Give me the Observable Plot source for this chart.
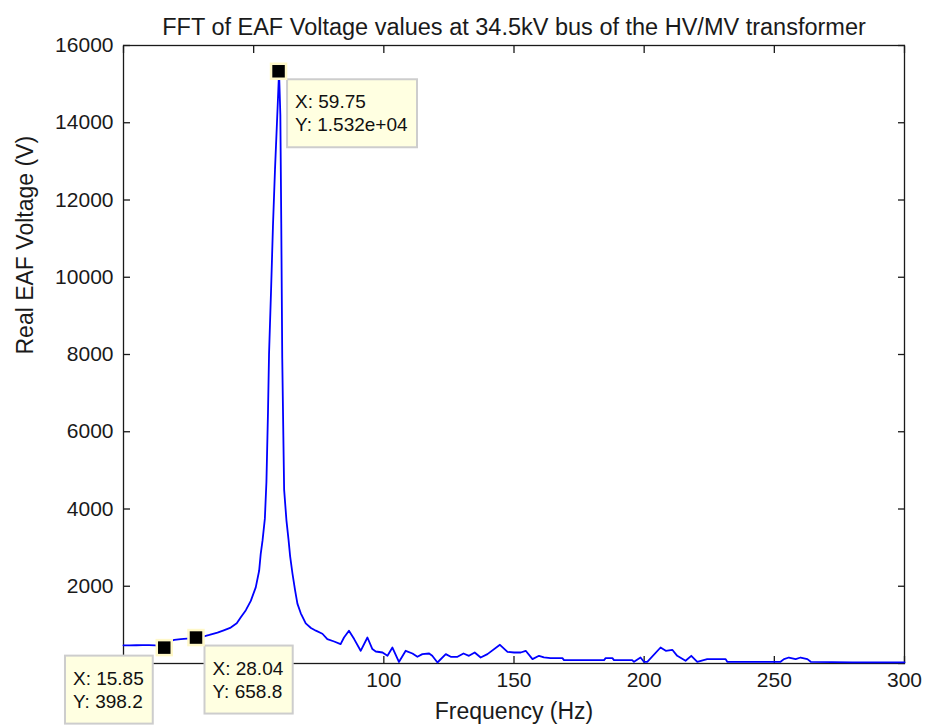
<!DOCTYPE html>
<html>
<head>
<meta charset="utf-8">
<script src="https://cdn.jsdelivr.net/npm/d3@7"></script>
<script src="https://cdn.jsdelivr.net/npm/@observablehq/plot@0.6"></script>
<style>
  html, body { margin: 0; padding: 0; background: #fff; }
  svg { display: block; }
</style>
</head>
<body>
<div id="chart"></div>
<script>
// ---- data ----
const titleText = "FFT of EAF Voltage values at 34.5kV bus of the HV/MV transformer";
const xLabel = "Frequency (Hz)";
const yLabel = "Real EAF Voltage (V)";
const xTicks = [0, 50, 100, 150, 200, 250, 300];
const yTicks = [0, 2000, 4000, 6000, 8000, 10000, 12000, 14000, 16000];
// labels that are visible (0 and 50 sit under the data tips in the reference)
const xTickLabels = [100, 150, 200, 250, 300];
const yTickLabels = [2000, 4000, 6000, 8000, 10000, 12000, 14000, 16000];

const freqHz = [
  0, 2.4, 4.9, 7.3, 9.8, 12.2, 14.6, 15.85, 17.1, 19.5,
  22.0, 24.4, 26.8, 28.04, 29.3, 30.9, 33.0, 36.1, 38.5, 41.2,
  43.5, 45.0, 47.0, 48.9, 50.8, 52.1, 52.7, 53.4, 54.3, 54.9,
  55.5, 55.9, 56.7, 57.4, 58.2, 59.2, 59.75, 60.25, 60.6, 60.98,
  61.4, 61.7, 62.6, 63.4, 64.0, 64.9, 65.9, 66.8, 68.1, 70.0,
  72.0, 73.9, 76.4, 78.3, 80.9, 83.4, 84.7, 86.6, 88.6, 91.1,
  93.7, 95.6, 96.9, 99.5, 101.4, 103.3, 105.8, 108.4, 111.0, 112.9,
  114.8, 117.4, 118.6, 120.6, 123.8, 125.7, 128.3, 130.6, 132.7, 134.9,
  137.2, 139.8, 144.6, 147.5, 150.0, 152.6, 154.5, 157.1, 159.6, 161.5,
  164.0, 168.6, 169.2, 184.6, 185.2, 187.8, 188.4, 195.4, 196.1, 198.6,
  199.9, 201.2, 206.3, 208.3, 210.8, 212.7, 215.9, 218.1, 220.4, 224.2,
  231.3, 231.9, 252.4, 253.7, 255.6, 258.2, 260.1, 262.7, 264.0, 280,
  300
];
const voltage = [
  470, 470, 472, 475, 478, 470, 440, 398.2, 560, 610,
  630, 642, 650, 658.8, 685, 705, 740, 800, 860, 930,
  1040, 1190, 1380, 1620, 1970, 2400, 2830, 3180, 3750, 4700,
  6500, 8000, 9700, 11300, 12800, 14400, 15320, 14200, 11400, 7900,
  5900, 4500, 3700, 3200, 2780, 2330, 1900, 1550, 1300, 1040,
  920, 850, 770, 632, 570, 502, 673, 847, 632, 329,
  673, 373, 311, 285, 199, 414, 40, 329, 259, 174,
  243, 259, 199, 26, 243, 174, 174, 259, 199, 285,
  155, 243, 484, 300, 285, 285, 329, 114, 199, 160,
  140, 140, 88, 88, 140, 140, 88, 88, 44, 155,
  44, 44, 414, 329, 355, 199, 70, 199, 44, 114,
  114, 44, 44, 114, 155, 114, 155, 114, 44, 30,
  30
];

// data tips (MATLAB data cursors)
const tipFreq = [15.85, 28.04, 59.75];
const tipVolt = [398.2, 658.8, 15320];
const tipXText = ["X: 15.85", "X: 28.04", "X: 59.75"];
const tipYText = ["Y: 398.2", "Y: 658.8", "Y: 1.532e+04"];
const tipSide = ["left", "right", "right"];

// ---- styling ----
const W = 927, H = 728;
const M = {top: 45, right: 23, bottom: 65, left: 123};
const ink = "#1a1a1a";
const font = "'Liberation Sans', Arial, Helvetica, sans-serif";

function dataTips(index, scales) {
  const g = d3.create("svg:g").attr("class", "datatips");
  tipFreq.forEach((f, i) => {
    const px = scales.x(f), py = scales.y(tipVolt[i]);
    const t = g.append("g").attr("class", "tip")
      .attr("data-px", px).attr("data-py", py).attr("data-side", tipSide[i]);
    t.append("rect").attr("class", "tipbg")
      .attr("x", 0).attr("y", 0).attr("height", 68).attr("width", 90)
      .attr("fill", "#ffffe1").attr("stroke", "#cdcdcd").attr("stroke-width", 2);
    const tx = t.append("text").attr("class", "tiptext")
      .attr("text-anchor", "start")
      .attr("font-size", 19).attr("fill", "#111").attr("font-family", font);
    tx.append("tspan").attr("x", 8).attr("y", 29).text(tipXText[i]);
    tx.append("tspan").attr("x", 8).attr("y", 52).text(tipYText[i]);
    g.append("rect")
      .attr("x", px - 7.5).attr("y", py - 7.5).attr("width", 15).attr("height", 15)
      .attr("fill", "#000").attr("stroke", "#fff8c8").attr("stroke-width", 2.5);
  });
  return g.node();
}

const fmt = d => String(d);

const chart = Plot.plot({
  width: W,
  height: H,
  marginTop: M.top,
  marginRight: M.right,
  marginBottom: M.bottom,
  marginLeft: M.left,
  style: {fontFamily: font, fontSize: "21px", color: ink, background: "#fff"},
  x: {domain: [0, 300]},
  y: {domain: [0, 16000]},
  marks: [
    Plot.axisX(xTickLabels, {anchor: "bottom", tickSize: 0, tickPadding: 9, label: null, tickFormat: fmt, fontSize: 21}),
    Plot.axisX(xTicks, {anchor: "bottom", tickSize: 7, dy: -7, fill: "none", label: null, stroke: ink, strokeWidth: 1.3}),
    Plot.axisX(xTicks, {anchor: "top", tickSize: 7, dy: 7, fill: "none", label: null, stroke: ink, strokeWidth: 1.3}),
    Plot.axisY(yTickLabels, {anchor: "left", tickSize: 0, tickPadding: 10, label: null, tickFormat: fmt, fontSize: 21}),
    Plot.axisY(yTicks, {anchor: "left", tickSize: 7, dx: 7, fill: "none", label: null, stroke: ink, strokeWidth: 1.3}),
    Plot.axisY(yTicks, {anchor: "right", tickSize: 7, dx: -7, fill: "none", label: null, stroke: ink, strokeWidth: 1.3}),
    Plot.frame({stroke: ink, strokeWidth: 1.3}),
    Plot.line(voltage, {x: freqHz, y: voltage, stroke: "#0000ff", strokeWidth: 1.8}),
    Plot.text([titleText], {frameAnchor: "top", dy: -27, fontSize: 23.5, fill: ink}),
    Plot.text([xLabel], {frameAnchor: "bottom", dy: 55, fontSize: 23, fill: ink}),
    Plot.text([yLabel], {frameAnchor: "left", dx: -98, rotate: -90, fontSize: 23, fill: ink}),
    dataTips
  ]
});

document.getElementById("chart").append(chart);

// size the tip boxes to their text and place them beside their points
d3.select(chart).selectAll("g.tip").each(function () {
  const t = d3.select(this);
  const w = t.select("text").node().getBBox().width + 17;
  t.select("rect").attr("width", w);
  const px = +t.attr("data-px"), py = +t.attr("data-py");
  const side = t.attr("data-side");
  const x0 = side === "right" ? px + 8.5 : px - 11.5 - w;
  t.attr("transform", `translate(${x0},${py + 8})`);
});
</script>
</body>
</html>
